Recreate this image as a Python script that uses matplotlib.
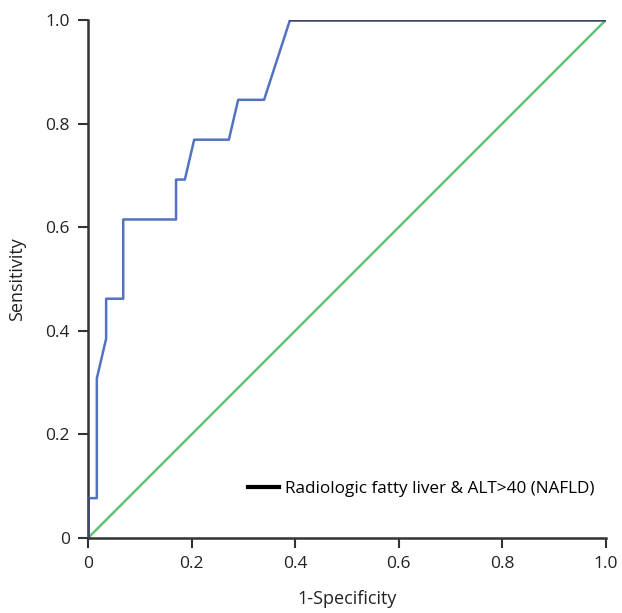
import numpy as np
import matplotlib.pyplot as plt

plt.rcParams['font.family'] = ['Open Sans', 'DejaVu Sans']

# ROC curve points (1-specificity, sensitivity)
fpr = [0.0, 0.0, 0.017, 0.017, 0.035, 0.035, 0.068, 0.068, 0.170, 0.170,
       0.187, 0.205, 0.272, 0.290, 0.340, 0.390]
tpr = [0.0, 0.077, 0.077, 0.308, 0.385, 0.462, 0.462, 0.615, 0.615, 0.692,
       0.692, 0.769, 0.769, 0.846, 0.846, 1.0]
top_x = [0.390, 1.0]
top_y = [1.0, 1.0]

ticks = [0, 0.2, 0.4, 0.6, 0.8, 1.0]
tick_labels = ['0', '0.2', '0.4', '0.6', '0.8', '1.0']

fig = plt.figure(figsize=(6.22, 6.13), dpi=100)
ax = fig.add_axes([0.1415, 0.1223, 0.8325, 0.845])

ax.plot([0, 1], [0, 1], color='#62c472', lw=1.8, zorder=2)
ax.plot(fpr, tpr, color='#5372c0', lw=1.8, zorder=3)
ax.plot(top_x, top_y, color='#3f4868', lw=1.8, zorder=3)
ax.plot([0, 0], [0, 0.077], color='#3f4868', lw=1.8, zorder=4)

# legend entry (black line)
ax.plot([], [], color='black', lw=3, label='Radiologic fatty liver & ALT>40 (NAFLD)')
leg = ax.legend(loc='lower right', bbox_to_anchor=(1.008, 0.05), frameon=False,
                fontsize=12.3, handlelength=1.85, handletextpad=0.35)

ax.set_xlim(0, 1)
ax.set_ylim(0, 1)
ax.set_xticks(ticks)
ax.set_xticklabels(tick_labels)
ax.set_yticks(ticks)
ax.set_yticklabels(tick_labels)
ax.tick_params(direction='out', length=7, width=1.5, colors='#333333', labelsize=12.5,
               labelcolor='#222222', pad=6)
for s in ['top', 'right']:
    ax.spines[s].set_visible(False)
for s in ['left', 'bottom']:
    ax.spines[s].set_linewidth(1.8)
    ax.spines[s].set_color('#333333')

ax.set_xlabel('1-Specificity', fontsize=13, color='#222222', labelpad=13)
ax.set_ylabel('Sensitivity', fontsize=13, color='#222222', labelpad=14)

fig.savefig('out.png', dpi=100)
